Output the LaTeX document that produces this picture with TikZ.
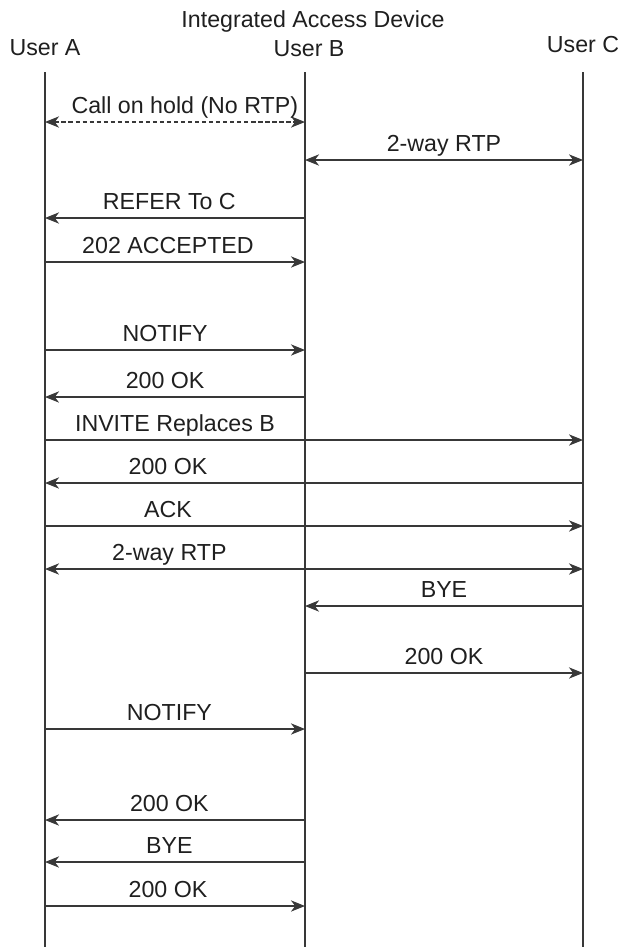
\documentclass[tikz,border=0pt]{standalone}
\usepackage{fontspec}
\setmainfont{Liberation Sans}
\usetikzlibrary{arrows.meta}
\definecolor{linegray}{rgb}{0.22, 0.22, 0.22}
\definecolor{textgray}{rgb}{0.12, 0.12, 0.12}

\begin{document}
\begin{tikzpicture}[
  x=0.025cm, y=-0.025cm,
  head/.style={font=\fontsize{16.5}{19}\selectfont, text=textgray, inner sep=0pt, anchor=base},
  lbl/.style={font=\fontsize{16.5}{19}\selectfont, text=textgray, inner sep=0pt, anchor=base, yshift=6pt},
  life/.style={line width=0.8pt, color=linegray},
  msg/.style={-{Stealth[length=10pt, width=8pt, inset=3pt]}, line width=0.8pt, color=linegray},
  both/.style={{Stealth[length=10pt, width=8pt, inset=3pt]}-{Stealth[length=10pt, width=8pt, inset=3pt]}, line width=0.8pt, color=linegray}
]
  \useasboundingbox (0,0) rectangle (618,947);

  % headers
  \node[head] (iad) at (313,27) {Integrated Access Device};
  \node[head] (ua) at (45,55) {User A};
  \node[head] (ub) at (309,56) {User B};
  \node[head] (uc) at (583,52) {User C};

  % lifelines
  \coordinate (atop) at (45,72);  \coordinate (abot) at (45,947);
  \coordinate (btop) at (305,72); \coordinate (bbot) at (305,947);
  \coordinate (ctop) at (583,72); \coordinate (cbot) at (583,947);
  \draw[life] (atop) -- (abot);
  \draw[life] (btop) -- (bbot);
  \draw[life] (ctop) -- (cbot);

  \foreach \n/\y in {1/122, 2/160, 3/218, 4/262, 5/350, 6/397, 7/440, 8/483,
                     9/526, 10/569, 11/606, 12/673, 13/729, 14/820, 15/862, 16/906}{
    \coordinate (a\n) at (45,\y);
    \coordinate (b\n) at (305,\y);
    \coordinate (c\n) at (583,\y);
  }

  % messages
  \draw[both, dash pattern=on 3pt off 2pt] (a1) -- node[lbl, xshift=7pt]{Call on hold (No RTP)} (b1);
  \draw[both] (b2) -- node[lbl]{2-way RTP} (c2);
  \draw[msg] (b3) -- node[lbl, xshift=-4pt]{REFER To C} (a3);
  \draw[msg] (a4) -- node[lbl, xshift=-5pt]{202 ACCEPTED} (b4);
  \draw[msg] (a5) -- node[lbl, xshift=-7pt]{NOTIFY} (b5);
  \draw[msg] (b6) -- node[lbl, xshift=-7pt]{200 OK} (a6);
  \draw[msg] (a7) -- node[lbl]{INVITE Replaces B} (b7) -- (c7);
  \draw[msg] (c8) -- (b8) -- node[lbl, xshift=-5pt]{200 OK} (a8);
  \draw[msg] (a9) -- node[lbl, xshift=-5pt]{ACK} (b9) -- (c9);
  \draw[both] (a10) -- node[lbl, xshift=-4pt]{2-way RTP} (b10) -- (c10);
  \draw[msg] (c11) -- node[lbl]{BYE} (b11);
  \draw[msg] (b12) -- node[lbl]{200 OK} (c12);
  \draw[msg] (a13) -- node[lbl, xshift=-4pt]{NOTIFY} (b13);
  \draw[msg] (b14) -- node[lbl, xshift=-4pt]{200 OK} (a14);
  \draw[msg] (b15) -- node[lbl, xshift=-4pt]{BYE} (a15);
  \draw[msg] (a16) -- node[lbl, xshift=-5pt]{200 OK} (b16);
\end{tikzpicture}
\end{document}
